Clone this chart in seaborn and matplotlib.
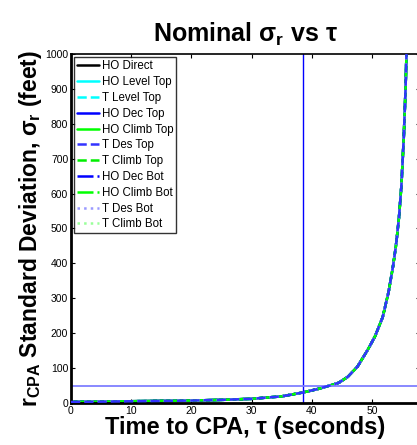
import matplotlib
matplotlib.use("Agg")
import matplotlib.pyplot as plt
import seaborn as sns
import pandas as pd

# Data (all series overlap almost exactly)
tau = [0, 5, 10, 15, 20, 25, 30, 35, 38.5, 41, 43, 44.5, 46, 47.6, 49.3,
       50.5, 51.8, 52.8, 53.5, 54.0, 54.5, 54.9, 55.3, 55.6, 56.2]
sigma = [3, 4, 5, 6, 7, 9, 12, 19, 30, 40, 50, 58, 75, 104, 152,
         190, 246, 320, 390, 450, 530, 620, 760, 900, 1300]

series_names = ["HO Direct", "HO Level Top", "T Level Top", "HO Dec Top",
                "HO Climb Top", "T Des Top", "T Climb Top", "HO Dec Bot",
                "HO Climb Bot", "T Des Bot", "T Climb Bot"]
series_colors = ["black", "cyan", "cyan", "#0000ff", "#00ff00", "#3333ff",
                 "#00ee00", "#0000ff", "#00ff00", "#9999ff", "#99ff99"]
series_styles = ["-", "-", "--", "-", "-", "--", "--", "-.", "-.", ":", ":"]

tau_cpa = 38.5
sigma_ref = 50

xticks = [0, 10, 20, 30, 40, 50]
yticks = list(range(0, 1001, 100))

sns.set_style("ticks")
plt.rcParams["font.family"] = ["Liberation Sans", "DejaVu Sans"]
plt.rcParams["mathtext.fontset"] = "custom"
plt.rcParams["mathtext.rm"] = "Liberation Sans:bold"
plt.rcParams["mathtext.bf"] = "Liberation Sans:bold"
plt.rcParams["mathtext.it"] = "Liberation Sans:bold"
plt.rcParams["text.color"] = "black"
plt.rcParams["axes.labelcolor"] = "black"
plt.rcParams["xtick.color"] = "black"
plt.rcParams["ytick.color"] = "black"
plt.rcParams["axes.edgecolor"] = "black"

fig = plt.figure(figsize=(4.17, 4.45), dpi=100)
ax = fig.add_axes([71 / 417, 1 - 403 / 445, (420 - 71) / 417, (403 - 54) / 445])

df = pd.DataFrame({"tau": tau, "sigma": sigma})
for name, col, ls in zip(series_names, series_colors, series_styles):
    sns.lineplot(data=df, x="tau", y="sigma", ax=ax, color=col,
                 linestyle=ls, linewidth=1.8, label=name,
                 zorder=3 if name == "T Des Top" else 2)

ax.axvline(tau_cpa, color="#0000ff", linewidth=1.0)
ax.axhline(sigma_ref, color="#7f7fff", linewidth=1.3)

ax.set_xlim(0, 58)
ax.set_ylim(0, 1000)
ax.set_xticks(xticks)
ax.set_yticks(yticks)
ax.tick_params(direction="in", top=True, right=True, labelsize=7.5,
               length=3, width=0.8, pad=2)
for s in ax.spines.values():
    s.set_linewidth(1.2)
ax.spines["left"].set_linewidth(2)
ax.spines["bottom"].set_linewidth(2)

ax.set_title(r"Nominal σ$_\mathregular{r}$ vs τ", fontsize=18,
             fontweight="bold", pad=9)
ax.set_xlabel("Time to CPA, τ (seconds)", fontsize=17, fontweight="bold",
              labelpad=0)
ax.set_ylabel(r"r$_\mathregular{CPA}$ Standard Deviation, σ$_\mathregular{r}$ (feet)",
              fontsize=16.5, fontweight="bold", labelpad=1)

leg = ax.legend(loc="upper left", fontsize=8.3, frameon=True, fancybox=False,
                edgecolor="black", handlelength=1.9, handletextpad=0.2,
                labelspacing=0.33, borderpad=0.25, borderaxespad=0.3)
leg.get_frame().set_linewidth(1.0)

fig.savefig("out.png", dpi=100)
